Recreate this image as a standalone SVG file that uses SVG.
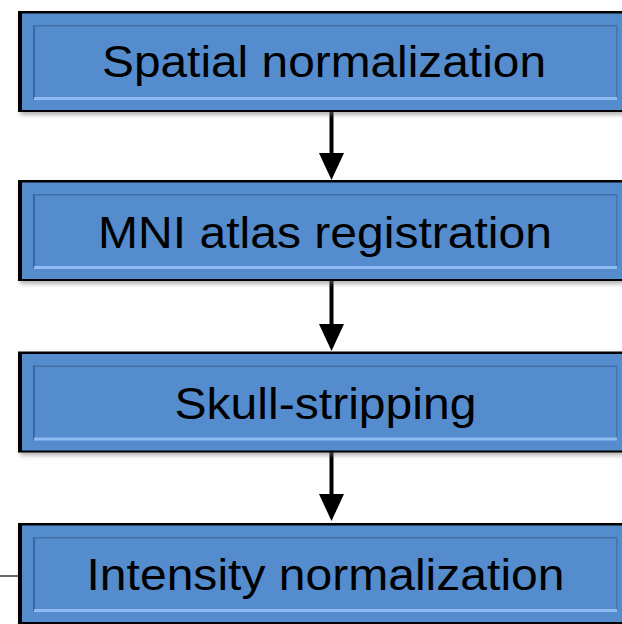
<svg xmlns="http://www.w3.org/2000/svg" xmlns:xlink="http://www.w3.org/1999/xlink" width="622" height="624" viewBox="0 0 622 624">
  <style>
    .label { font-family: "Liberation Sans", Arial, sans-serif; font-size: 44px; fill: #000; text-anchor: middle; }
    .shaft { stroke: #000; stroke-width: 4; fill: none; }
    .head { fill: #000; }
    .lead { stroke: #000; stroke-width: 1.2; fill: none; }
  </style>
  <defs>
    <filter id="soft" x="-10%" y="-20%" width="120%" height="150%">
      <feGaussianBlur stdDeviation="2.2"/>
    </filter>
    <linearGradient id="leftEdge" x1="0" y1="0" x2="1" y2="0">
      <stop offset="0" stop-color="#2f5a8c"/>
      <stop offset="1" stop-color="#548cce" stop-opacity="0"/>
    </linearGradient>
    <!-- bevelled process box, 101 px tall, anchored at its top-left -->
    <g id="box">
      <rect x="20" y="3" width="620" height="101" fill="#777" opacity="0.55" filter="url(#soft)"/>
      <rect x="18" y="0" width="620" height="101" fill="#000"/>
      <rect x="22" y="2.5" width="612" height="96.5" fill="#548cce"/>
      <!-- bevel: inner panel edges -->
      <rect x="33" y="14" width="584" height="74" fill="#548cce"/>
      <rect x="33" y="14" width="584" height="1.5" fill="#416fa6"/>
      <rect x="33" y="14" width="3.5" height="74" fill="url(#leftEdge)"/>
      <rect x="33" y="14" width="1.5" height="74" fill="#36629a"/>
      <rect x="616" y="14" width="1.5" height="74" fill="#4474ad"/>
      <rect x="34" y="86" width="583" height="3" fill="#8fbcf0"/>
    </g>
  </defs>

  <g id="connectors">
    <line class="shaft" x1="331.5" y1="112" x2="331.5" y2="154"/>
    <polygon class="head" points="319,153 344,153 331.5,180"/>
    <line class="shaft" x1="331.5" y1="281" x2="331.5" y2="325"/>
    <polygon class="head" points="319,324 344,324 331.5,351"/>
    <line class="shaft" x1="331.5" y1="452" x2="331.5" y2="495"/>
    <polygon class="head" points="319,494 344,494 331.5,521"/>
    <line class="lead" x1="0" y1="576" x2="19" y2="576"/>
  </g>

  <g id="spatial-normalization">
    <use href="#box" xlink:href="#box" y="11"/>
    <text class="label" x="324" y="77" textLength="444" lengthAdjust="spacingAndGlyphs">Spatial normalization</text>
  </g>

  <g id="mni-atlas-registration">
    <use href="#box" xlink:href="#box" y="180"/>
    <text class="label" x="325" y="248" textLength="454" lengthAdjust="spacingAndGlyphs">MNI atlas registration</text>
  </g>

  <g id="skull-stripping">
    <use href="#box" xlink:href="#box" y="351.5"/>
    <text class="label" x="325.5" y="419" textLength="302" lengthAdjust="spacingAndGlyphs">Skull-stripping</text>
  </g>

  <g id="intensity-normalization">
    <use href="#box" xlink:href="#box" y="523"/>
    <text class="label" x="325.5" y="590" textLength="478" lengthAdjust="spacingAndGlyphs">Intensity normalization</text>
  </g>
</svg>
